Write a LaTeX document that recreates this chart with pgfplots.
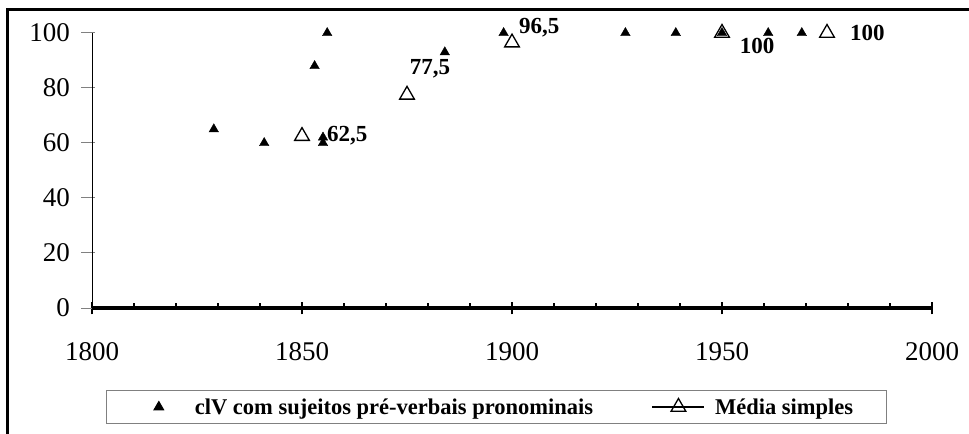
\documentclass[border=0pt]{standalone}
\usepackage{pgfplots}
\pgfplotsset{compat=1.18}
\usepackage{fontspec}
\setmainfont{Liberation Serif}
\begin{document}
\begin{tikzpicture}
\useasboundingbox (0,0) rectangle (969bp,434bp);
\draw[line width=2.6bp, black] (7.5bp,0bp) -- (7.5bp,424.5bp) -- (969bp,424.5bp);
\begin{axis}[
  at={(92bp,126bp)}, anchor=south west,
  scale only axis, width=840bp, height=275bp,
  xmin=1800, xmax=2000, ymin=0, ymax=100,
  axis x line=bottom, axis y line=left,
  separate axis lines,
  axis line style={-},
  every outer x axis line/.append style={line width=3bp, black},
  every outer y axis line/.append style={line width=0.8bp, black},
  xtick={1800,1850,...,2000}, minor x tick num=4,
  ytick={0,20,...,100},
  tick align=center,
  major tick length=13bp, minor tick length=6bp,
  every x tick/.append style={black, line width=2.2bp},
  every minor x tick/.append style={yshift=2.5bp},
  every y tick/.append style={gray, line width=1bp, xshift=-4bp},
  /pgf/number format/assume math mode=true,
  /pgf/number format/set thousands separator={},
  tick label style={font=\fontsize{27bp}{31bp}\selectfont, black},
  xticklabel style={yshift=-25bp},
  yticklabel style={xshift=-12bp},
  clip=false,
  legend style={at={(0.4815,-0.36)}, anchor=center, draw=gray, line width=1bp,
    font=\bfseries\fontsize{22.5bp}{26bp}\selectfont, inner xsep=26bp, inner ysep=6bp},
  legend columns=2,
  legend cell align=left,
  /tikz/every odd column/.append style={column sep=8bp},
  /tikz/every even column/.append style={column sep=33bp},
]
\addplot[only marks, mark=triangle*, mark size=5.5bp, black, mark options={solid, fill=black},
  legend image code/.code={\path[draw=none] (0bp,0bp) -- (52bp,0bp);
    \draw[only marks] plot coordinates {(26bp,0bp)};}]
  coordinates {(1829,65) (1841,60) (1853,88) (1855,62) (1855,60) (1856,100) (1884,93) (1898,100) (1927,100) (1939,100) (1950,100) (1961,100) (1969,100)};
\addlegendentry{\makebox[422bp][l]{clV com sujeitos pré-verbais pronominais}}
\addplot[only marks, mark=triangle, mark size=8.5bp, black, mark options={solid, line width=1.3bp},
  legend image code/.code={\draw[line width=1.3bp, black] (0bp,0bp) -- (52bp,0bp);
    \draw[only marks, line width=1.3bp] plot coordinates {(26bp,0bp)};}]
  coordinates {(1850,62.5) (1875,77.5) (1900,96.5) (1950,100) (1975,100)};
\addlegendentry{\makebox[143bp][l]{Média simples}}
\begin{scope}[every node/.style={font=\bfseries\fontsize{23bp}{26bp}\selectfont, inner sep=0pt}]
\node[anchor=west] at (axis cs:1850,62.5) [xshift=25bp] {62,5};
\node[anchor=center] at (axis cs:1875,77.5) [xshift=23bp, yshift=26bp] {77,5};
\node[anchor=west] at (axis cs:1900,96.5) [xshift=7bp, yshift=15bp] {96,5};
\node[anchor=center] at (axis cs:1950,100) [xshift=35bp, yshift=-13bp] {100};
\node[anchor=west] at (axis cs:1975,100) [xshift=23bp] {100};
\end{scope}
\end{axis}
\end{tikzpicture}
\end{document}
